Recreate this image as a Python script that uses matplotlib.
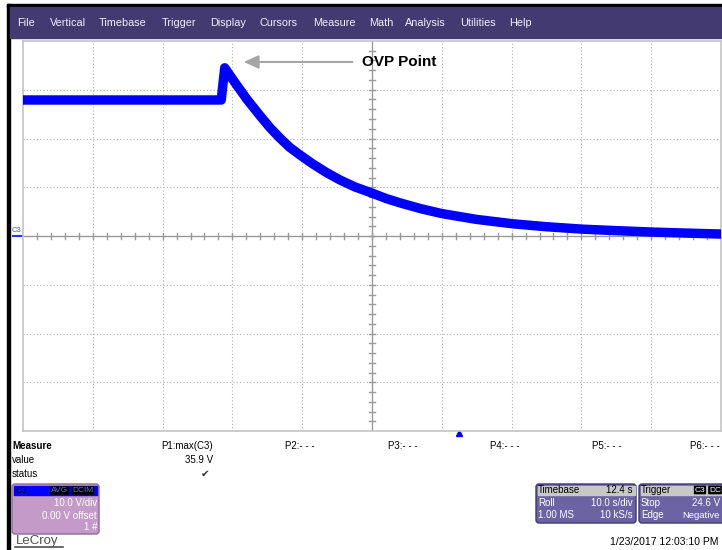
import matplotlib
matplotlib.use("Agg")
import matplotlib.pyplot as plt
from matplotlib.patches import Rectangle, FancyBboxPatch
import numpy as np

plt.rcParams['font.family'] = ['Liberation Sans', 'DejaVu Sans']

# trace C3 (s, V), centre of the noise band
time_s = [0.0, 28.4, 28.9, 30.4, 32.1, 34.0, 35.4, 36.8, 38.2, 39.7, 41.5,
          43.5, 45.4, 47.5, 50.0, 52.0, 54.0, 57.0, 60.0, 65.0, 70.2, 75.0,
          80.2, 85.0, 90.3, 95.0, 100.0]
volts = [27.9, 27.9, 34.5, 31.4, 28.0, 24.6, 22.2, 20.1, 18.2, 16.6, 14.8,
         13.0, 11.5, 10.1, 8.8, 7.7, 6.8, 5.6, 4.6, 3.4, 2.5, 1.9,
         1.4, 1.1, 0.8, 0.6, 0.4]

menu_items = ["File", "Vertical", "Timebase", "Trigger", "Display", "Cursors",
              "Measure", "Math", "Analysis", "Utilities", "Help"]
menu_x = [17, 50, 99, 162, 210, 260, 313, 369, 405, 460, 509]
param_labels = ["P2:- - -", "P3:- - -", "P4:- - -", "P5:- - -", "P6:- - -"]
param_x = [285, 388, 490, 592, 690]

fig = plt.figure(figsize=(7.22, 5.5), dpi=100)

# screen chrome in pixel coordinates
ui = fig.add_axes([0, 0, 1, 1])
ui.set_xlim(0, 722)
ui.set_ylim(550, 0)
ui.axis('off')
ui.set_zorder(0)

ui.add_patch(Rectangle((7, 4), 720, 3, color='black'))
ui.add_patch(Rectangle((7, 4), 2.5, 546, color='black'))
ui.add_patch(Rectangle((9.5, 7), 715, 31, color='#433a72'))
for name, x in zip(menu_items, menu_x):
    ui.text(x, 23, name, color='#f0f0f8', fontsize=7.8, va='center', ha='left')

# measure panel
ui.text(12, 446, "Measure", fontsize=7, fontweight='bold', va='center')
ui.text(12, 460, "value", fontsize=7, va='center')
ui.text(12, 474, "status", fontsize=7, va='center')
ui.text(213, 446, "P1:max(C3)", fontsize=7, va='center', ha='right')
ui.text(213, 460, "35.9 V", fontsize=7, va='center', ha='right')
ui.text(210, 474, "\u2714", fontsize=7.5, va='center', ha='right', color='#333333',
        family=['DejaVu Sans'])
for lab, x in zip(param_labels, param_x):
    ui.text(x, 446, lab, fontsize=7, va='center', ha='left')
ui.plot([459], [433], marker='^', color='#0000ff', markersize=5)

# C3 channel box
ui.add_patch(FancyBboxPatch((12, 484), 87, 50, boxstyle='round,pad=0,rounding_size=3',
                            fc='#c49ac8', ec='#8c6a9c', lw=1))
ui.add_patch(Rectangle((14, 486), 83, 9, color='#0000ff'))
ui.text(15, 490.5, "C3", fontsize=6.5, va='center', color='black')
ui.text(60, 490.5, "AVG", fontsize=6, va='center', ha='center', color='#6070ff',
        bbox=dict(boxstyle='round,pad=0.1', fc='black', ec='none'))
ui.text(83, 490.5, "DCIM", fontsize=6, va='center', ha='center', color='#6070ff',
        bbox=dict(boxstyle='round,pad=0.1', fc='black', ec='none'))
ui.text(97, 503, "10.0 V/div", fontsize=7, va='center', ha='right', color='white')
ui.text(97, 516, "0.00 V offset", fontsize=7, va='center', ha='right', color='white')
ui.text(97, 527, "1 #", fontsize=7, va='center', ha='right', color='white')

ui.text(16, 541, "LeCroy", fontsize=9.5, va='center', color='#505050')
ui.plot([15, 63], [547, 547], color='#505050', lw=1.2)

# timebase box
ui.add_patch(FancyBboxPatch((536, 484), 100, 39, boxstyle='round,pad=0,rounding_size=3',
                            fc='#6b63a3', ec='#3c3870', lw=1))
ui.add_patch(Rectangle((537.5, 485.5), 97, 9, color='#c8c8c8'))
ui.text(538, 490, "Timebase", fontsize=7, va='center')
ui.text(633, 490, "12.4 s", fontsize=7, va='center', ha='right')
ui.text(538, 503, "Roll", fontsize=7, va='center', color='white')
ui.text(633, 503, "10.0 s/div", fontsize=7, va='center', ha='right', color='white')
ui.text(538, 515, "1.00 MS", fontsize=7, va='center', color='white')
ui.text(633, 515, "10 kS/s", fontsize=7, va='center', ha='right', color='white')

# trigger box
ui.add_patch(FancyBboxPatch((639, 484), 90, 39, boxstyle='round,pad=0,rounding_size=3',
                            fc='#6b63a3', ec='#3c3870', lw=1))
ui.add_patch(Rectangle((640.5, 485.5), 87, 9, color='#c8c8c8'))
ui.text(641, 490, "Trigger", fontsize=7, va='center')
ui.text(700, 490, "C3", fontsize=6, va='center', ha='center', color='white',
        bbox=dict(boxstyle='round,pad=0.1', fc='black', ec='none'))
ui.text(715, 490, "DC", fontsize=6, va='center', ha='center', color='white',
        bbox=dict(boxstyle='round,pad=0.1', fc='black', ec='none'))
ui.text(641, 503, "Stop", fontsize=7, va='center', color='white')
ui.text(720, 503, "24.6 V", fontsize=7, va='center', ha='right', color='white')
ui.text(641, 515, "Edge", fontsize=7, va='center', color='white')
ui.text(720, 515, "Negative", fontsize=6.8, va='center', ha='right', color='white')

ui.text(718, 542, "1/23/2017 12:03:10 PM", fontsize=7.5, va='center', ha='right')

# channel marker
ui.text(17, 230, "C3", fontsize=5.5, va='center', ha='center', color='#4050ff')
ui.plot([13, 22], [235.5, 235.5], color='#2030ff', lw=1.5)

# grid / waveform area: 10 s/div x 10 V/div
ax = fig.add_axes([23 / 722, (550 - 431) / 550, 698 / 722, 390 / 550])
ax.set_zorder(1)
ax.set_xlim(0, 100)
ax.set_ylim(-40, 40)
ax.set_xticks([])
ax.set_yticks([])
for sp in ax.spines.values():
    sp.set_color('#c4c4c4')
    sp.set_linewidth(1.2)

dot = dict(color='#b0b0b0', lw=0.8, linestyle=(0, (1, 2)), zorder=1)
for v in range(-30, 40, 10):
    if v != 0:
        ax.axhline(v, **dot)
for t in range(10, 100, 10):
    if t != 50:
        ax.axvline(t, **dot)
ax.axhline(0, color='#9a9a9a', lw=1, zorder=1)
ax.axvline(50, color='#9a9a9a', lw=1, zorder=1)
for t in np.arange(2, 100, 2):
    ax.plot([t, t], [-0.6, 0.6], color='#9a9a9a', lw=1, zorder=1)
for v in np.arange(-38, 40, 2):
    ax.plot([49.55, 50.45], [v, v], color='#9a9a9a', lw=1, zorder=1)

ax.plot(time_s, volts, color='#0000ff', lw=6.8, solid_joinstyle='round', zorder=3)

ax.annotate('', xy=(31.2, 35.7), xytext=(47.6, 35.7),
            arrowprops=dict(arrowstyle='-|>,head_length=0.9,head_width=0.4',
                            color='#a6a6a6', lw=1.5))
ax.text(48.6, 35.7, "OVP Point", fontsize=11, fontweight='bold', va='center', ha='left')

fig.savefig("out.png", dpi=100)
